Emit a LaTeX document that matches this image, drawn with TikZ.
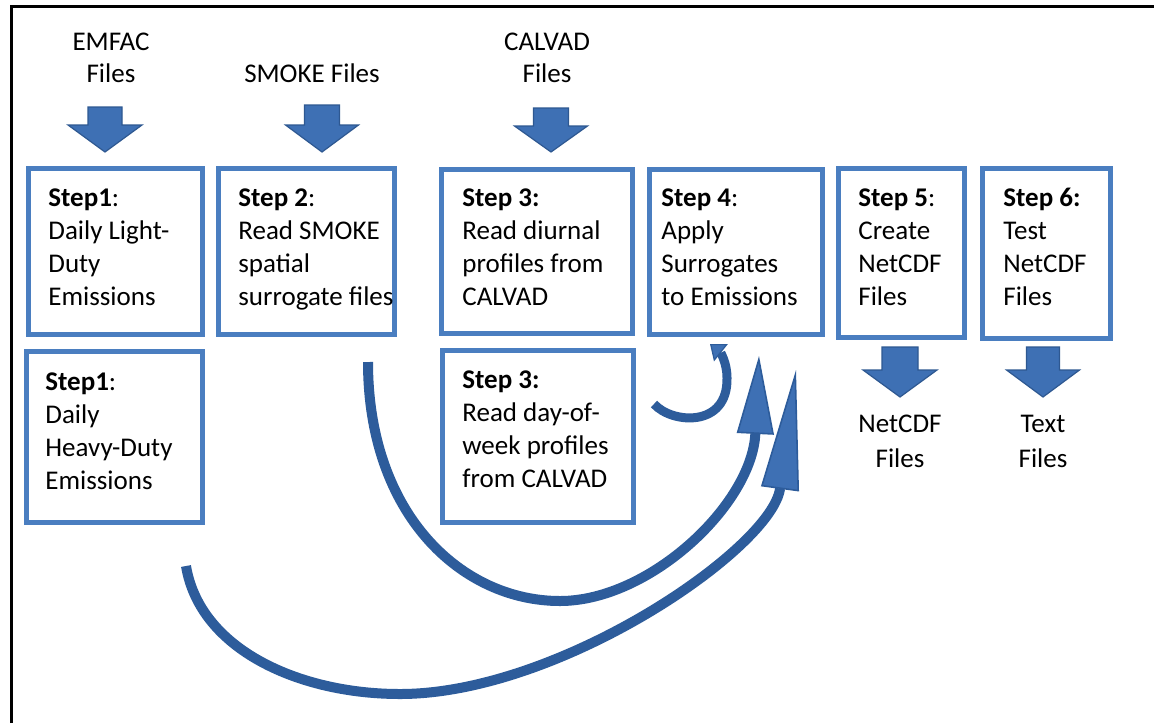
\documentclass[tikz,border=0pt]{standalone}
\usepackage{fontspec}
\setmainfont{Carlito}
\usetikzlibrary{arrows.meta,fit}
\definecolor{boxblue}{RGB}{74,126,192}
\definecolor{arrowfill}{RGB}{62,112,180}
\definecolor{arrowedge}{RGB}{46,88,145}
\definecolor{curveblue}{RGB}{45,92,155}
\newcommand\mylines[2]{\begin{tabular}[t]{@{}#1@{}}#2\end{tabular}}
\newcommand\blockdown[6]{\filldraw[blockarrow] ({#1-#5},#2) -- ({#1+#5},#2) -- ({#1+#5},#3) -- ({#1+#6},#3) -- (#1,#4) -- ({#1-#6},#3) -- ({#1-#5},#3) -- cycle;}
\begin{document}
\begin{tikzpicture}[x=0.5pt,y=-0.5pt,
  stepbox/.style={draw=boxblue, line width=2.5pt, inner sep=0pt},
  steptext/.style={anchor=base west, inner sep=0pt, font=\fontsize{13.5}{16.5}\selectfont},
  toplabel/.style={anchor=base, inner sep=0pt, font=\fontsize{13.5}{16}\selectfont},
  botlabel/.style={anchor=base, inner sep=0pt, font=\fontsize{13.5}{17.5}\selectfont},
  blockarrow/.style={fill=arrowfill, draw=arrowedge, line width=0.6pt},
  flow/.style={draw=curveblue, line width=5pt}]
\useasboundingbox (0,0) rectangle (1154,723);
\fill[white] (0,0) rectangle (1154,723);
% frame
\draw[line width=1.5pt] (11.5,723) -- (11.5,6.5) -- (1154,6.5);

% boxes
\node[stepbox, fit={(28.5,168.5) (202.5,334.5)}] (s1) {};
\node[stepbox, fit={(218.5,168.5) (394.5,334.5)}] (s2) {};
\node[stepbox, fit={(441.5,169) (632.5,333.5)}] (s3) {};
\node[stepbox, fit={(649.5,169.5) (822.5,334.5)}] (s4) {};
\node[stepbox, fit={(838.5,168.5) (964.5,337.5)}] (s5) {};
\node[stepbox, fit={(982.5,168.5) (1110.5,338.5)}] (s6) {};
\node[stepbox, fit={(26.5,351.5) (202.5,522.5)}] (s1b) {};
\node[stepbox, fit={(442.5,350.5) (633.5,522.5)}] (s3b) {};

% box texts
\node[steptext] (t1) at (48,206) {\mylines{l}{\textbf{Step1}:\\Daily Light-\\Duty\\Emissions}};
\node[steptext] (t2) at (238,206) {\mylines{l}{\textbf{Step 2}:\\Read SMOKE\\spatial\\surrogate files}};
\node[steptext] (t3) at (462,206) {\mylines{l}{\textbf{Step 3:}\\Read diurnal\\profiles from\\CALVAD}};
\node[steptext] (t4) at (661,206) {\mylines{l}{\textbf{Step 4}:\\Apply\\Surrogates\\to Emissions}};
\node[steptext] (t5) at (858,206) {\mylines{l}{\textbf{Step 5}:\\Create\\NetCDF\\Files}};
\node[steptext] (t6) at (1003,206) {\mylines{l}{\textbf{Step 6:}\\Test\\NetCDF\\Files}};
\node[steptext] (t1b) at (45,390) {\mylines{l}{\textbf{Step1}:\\Daily\\Heavy-Duty\\Emissions}};
\node[steptext] (t3b) at (462,388) {\mylines{l}{\textbf{Step 3:}\\Read day-of-\\week profiles\\from CALVAD}};

% input / output labels
\node[toplabel] (emfac) at (111,50) {\mylines{c}{EMFAC\\Files}};
\node[toplabel] (smoke) at (312,82) {SMOKE Files};
\node[toplabel] (calvad) at (547,50) {\mylines{c}{CALVAD\\Files}};
\node[botlabel] (netcdf) at (900,432) {\mylines{c}{NetCDF\\Files}};
\node[botlabel] (textf) at (1043,432) {\mylines{c}{Text\\Files}};

% block arrows
\blockdown{105}{107}{125}{152}{17}{37}
\blockdown{322}{105}{125}{152}{17.5}{36.5}
\blockdown{551}{108}{126}{152}{17.5}{36.5}
\blockdown{900}{347}{370}{397}{18}{37}
\blockdown{1043}{347}{370}{397}{16.5}{36.5}

% curved connectors
\coordinate (c1s) at (368,362);
\coordinate (c1e) at (759,356);
\coordinate (c2s) at (186,566);
\coordinate (c2e) at (796,370);
\coordinate (c3s) at (654,404);
\coordinate (c3e) at (710,344);
\draw[flow, -{Triangle[length=39pt,width=18.5pt,fill=arrowfill,line width=0.8pt]}]
  (c1s) .. controls (368,515) and (462,601) .. (560,601)
        .. controls (650,601) and (752,504) .. (c1e);
\draw[flow, -{Triangle[length=60pt,width=19pt,fill=arrowfill,line width=0.8pt]}]
  (c2s) .. controls (200,650) and (300,694) .. (400,694)
        .. controls (560,694) and (772,548) .. (c2e);
\draw[flow, line width=4.5pt, -{Triangle[length=7pt,width=11pt,fill=arrowfill,line width=0.6pt]}]
  (c3s) .. controls (672,424) and (728,428) .. (727,378)
        .. controls (727,362) and (720,352) .. (c3e);
\end{tikzpicture}
\end{document}
